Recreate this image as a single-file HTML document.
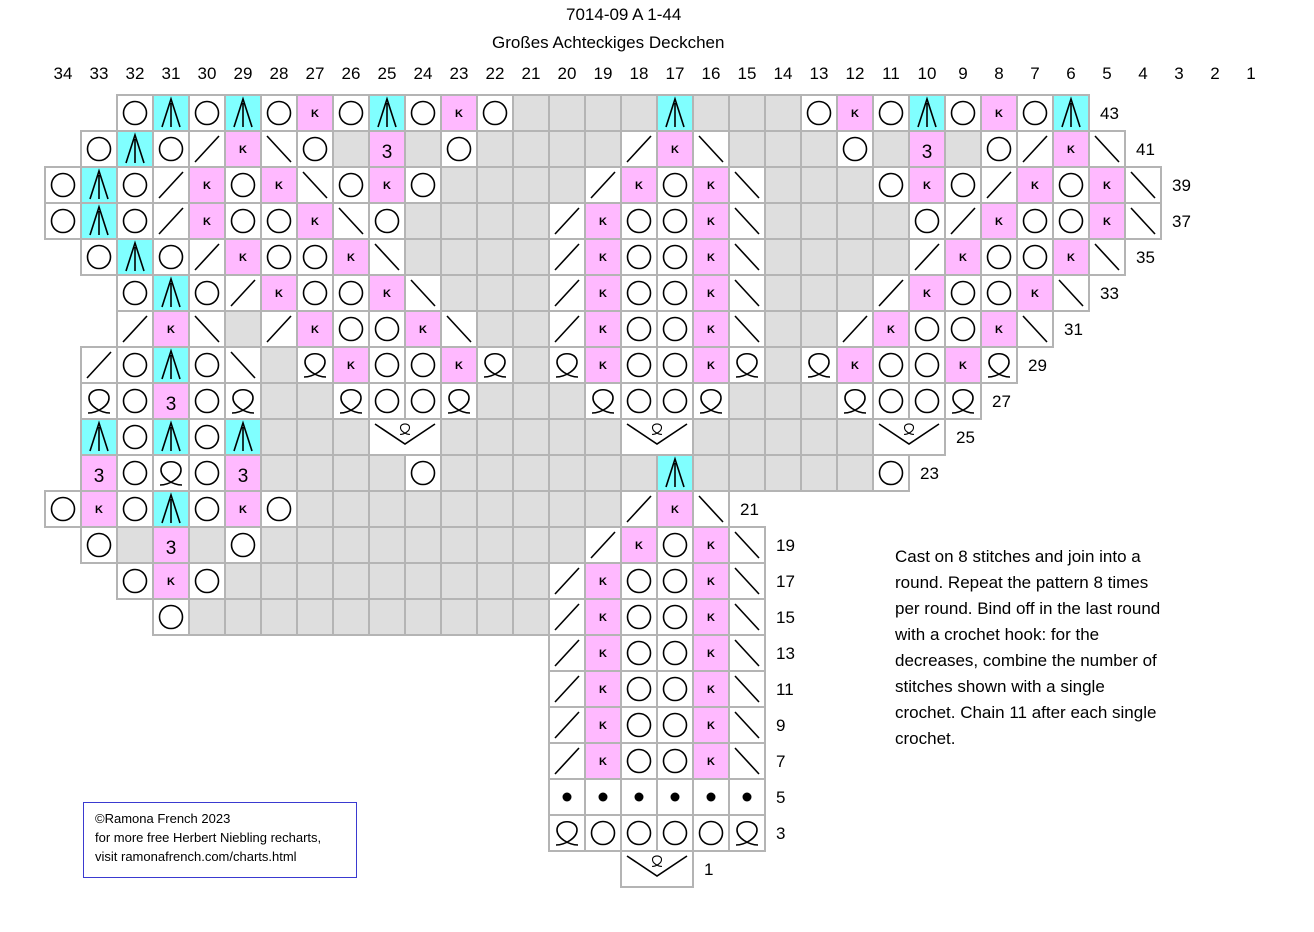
<!DOCTYPE html>
<html><head><meta charset="utf-8"><style>
body{margin:0;background:#fff;width:1314px;height:932px;overflow:hidden;position:relative;font-family:"Liberation Sans",sans-serif}
.t{position:absolute;font-size:17px;color:#000;white-space:nowrap}
#notes{position:absolute;left:895px;top:544px;font-size:17px;line-height:26px;white-space:nowrap}
#box{position:absolute;left:83px;top:802px;width:274px;height:76px;border:1px solid #3a3ad0;font-size:13px;line-height:19px;box-sizing:border-box;padding:6px 0 0 11px}
svg{position:absolute;left:0;top:0}
</style></head><body>
<div class="t" style="left:566px;top:5px">7014-09 A 1-44</div>
<div class="t" style="left:492px;top:33px">Großes Achteckiges Deckchen</div>
<div id="notes">Cast on 8 stitches and join into a<br>round. Repeat the pattern 8 times<br>per round. Bind off in the last round<br>with a crochet hook: for the<br>decreases, combine the number of<br>stitches shown with a single<br>crochet. Chain 11 after each single<br>crochet.</div>
<div id="box">©Ramona French 2023<br>for more free Herbert Niebling recharts,<br>visit ramonafrench.com/charts.html</div>
<svg id="s" width="1314" height="932" xmlns="http://www.w3.org/2000/svg"></svg>
<script>
var rows=[
[43,32,"OAOAOKOAOKOGGGGAGGGOKOAOKOA"],
[41,33,"OAO/K\\OG3GOGGGG/K\\GGGOG3GO/K\\"],
[39,34,"OAO/KOK\\OKOGGGG/KOK\\GGGOKO/KOK\\"],
[37,34,"OAO/KOOK\\OGGGG/KOOK\\GGGGO/KOOK\\"],
[35,33,"OAO/KOOK\\GGGG/KOOK\\GGGG/KOOK\\"],
[33,32,"OAO/KOOK\\GGG/KOOK\\GGG/KOOK\\"],
[31,32,"/K\\G/KOOK\\GG/KOOK\\GG/KOOK\\"],
[29,33,"/OAO\\GQKOOKQGQKOOKQGQKOOKQ"],
[27,33,"QO3OQGGQOOQGGGQOOQGGGQOOQ"],
[25,33,"AOAOAGGGVGGGGGVGGGGGV"],
[23,33,"3OQO3GGGGOGGGGGGAGGGGGO"],
[21,34,"OKOAOKOGGGGGGGGG/K\\"],
[19,33,"OG3GOGGGGGGGGG/KOK\\"],
[17,32,"OKOGGGGGGGGG/KOOK\\"],
[15,31,"OGGGGGGGGGG/KOOK\\"],
[13,20,"/KOOK\\"],[11,20,"/KOOK\\"],[9,20,"/KOOK\\"],[7,20,"/KOOK\\"],
[5,20,"......"],[3,20,"QOOOOQ"],[1,18,"V"]];
var h='';
function X(c){return 45+(34-c)*36;}
for(var c=34;c>=1;c--){h+='<text x="'+(X(c)+18)+'" y="79" font-size="17" text-anchor="middle" font-family="Liberation Sans">'+c+'</text>';}
var cells='',sym='';
function P(a,b){return a+','+b;}
function Q(cx,cy,s){return '<path d="M'+P(cx-11*s,cy+12*s)+' C'+P(cx-2*s,cy+12*s)+' '+P(cx+10*s,cy+5*s)+' '+P(cx+10*s,cy-3*s)+' C'+P(cx+10*s,cy-14*s)+' '+P(cx-10*s,cy-14*s)+' '+P(cx-10*s,cy-3*s)+' C'+P(cx-10*s,cy+5*s)+' '+P(cx+2*s,cy+12*s)+' '+P(cx+11*s,cy+12*s)+'" fill="none" stroke="#000" stroke-width="'+(s>0.8?1.6:1.1)+'"/>';}
rows.forEach(function(r,i){
 var y=95+36*i,c=r[1],s=r[2],cy=y+18;
 for(var k=0;k<s.length;k++){
  var ch=s[k],x=X(c),w=36;
  if(ch=='V')w=72;
  var fill='#fff';
  if(ch=='G')fill='#dedede';else if(ch=='A')fill='#80ffff';else if(ch=='K'||ch=='3')fill='#ffb9ff';
  cells+='<rect x="'+x+'" y="'+y+'" width="'+w+'" height="36" fill="'+fill+'" stroke="#b4b4b4" stroke-width="2"/>';
  var cx=x+18;
  if(ch=='O')sym+='<circle cx="'+cx+'" cy="'+cy+'" r="11.5" fill="none" stroke="#000" stroke-width="1.6"/>';
  else if(ch=='A')sym+='<path d="M'+(cx-9)+','+(cy+14)+' L'+cx+','+(cy-14)+' L'+(cx+9)+','+(cy+14)+' M'+cx+','+(cy-10)+' L'+cx+','+(cy+14)+'" fill="none" stroke="#000" stroke-width="1.6"/>';
  else if(ch=='K')sym+='<text x="'+cx+'" y="'+(cy+4)+'" font-size="11" font-weight="bold" text-anchor="middle" font-family="Liberation Sans">K</text>';
  else if(ch=='3')sym+='<text x="'+cx+'" y="'+(cy+9)+'" font-size="19" text-anchor="middle" font-family="Liberation Sans">3</text>';
  else if(ch=='/')sym+='<line x1="'+(cx-12)+'" y1="'+(cy+13)+'" x2="'+(cx+12)+'" y2="'+(cy-13)+'" stroke="#000" stroke-width="1.6"/>';
  else if(ch=='\\')sym+='<line x1="'+(cx-12)+'" y1="'+(cy-13)+'" x2="'+(cx+12)+'" y2="'+(cy+13)+'" stroke="#000" stroke-width="1.6"/>';
  else if(ch=='Q')sym+=Q(cx,cy,1);
  else if(ch=='.')sym+='<circle cx="'+cx+'" cy="'+cy+'" r="4.5" fill="#000"/>';
  else if(ch=='V'){var m=x+36;sym+='<path d="M'+(x+6)+','+(y+5)+' L'+m+','+(y+25)+' L'+(x+66)+','+(y+5)+'" fill="none" stroke="#000" stroke-width="1.6"/>'+Q(m,y+10,0.45);}
  c-=(ch=='V')?2:1;
 }
 h+='<text x="'+(X(c)+11)+'" y="'+(cy+6)+'" font-size="17" font-family="Liberation Sans">'+r[0]+'</text>';
});
document.getElementById('s').innerHTML=cells+sym+h;
</script>
</body></html>
